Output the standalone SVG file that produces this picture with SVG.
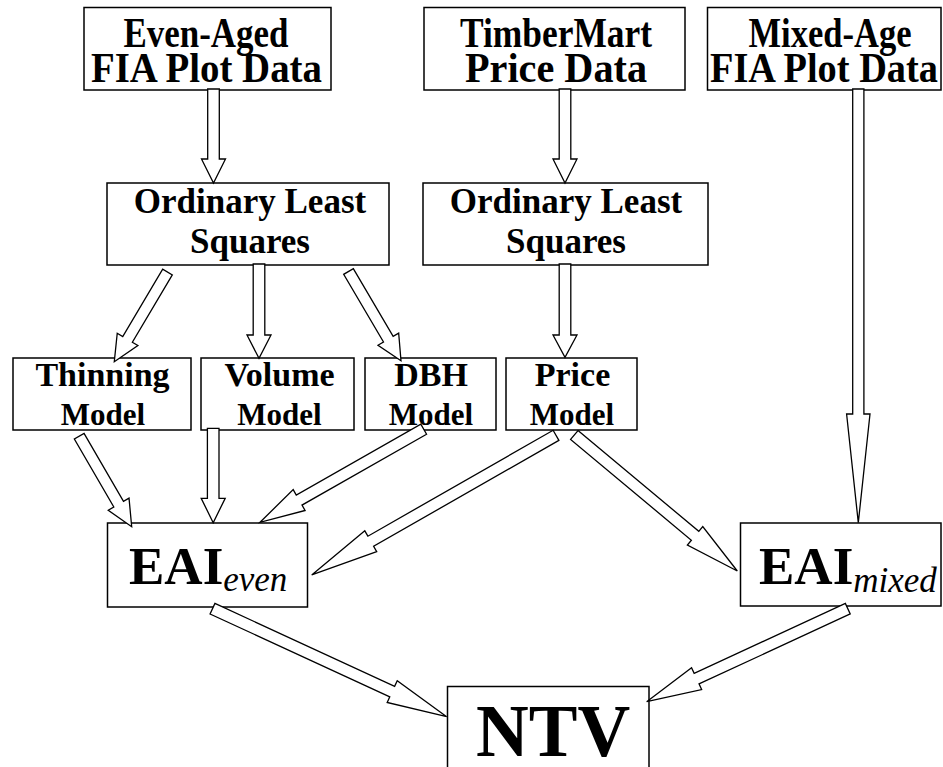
<svg xmlns="http://www.w3.org/2000/svg" width="943" height="767" viewBox="0 0 943 767">
<style>
.box{fill:#fff;stroke:#000;stroke-width:1.5}
.t{font-family:"Liberation Serif","Times New Roman",serif;font-weight:bold;fill:#000}
.i{font-family:"Liberation Serif","Times New Roman",serif;font-style:italic;font-weight:normal}
.ar{fill:#fff;stroke:#000;stroke-width:1.3;stroke-linejoin:miter}
</style>
<rect width="943" height="767" fill="#fff"/>
<g id="even-aged-fia">
<rect class="box" x="84" y="7.5" width="247" height="82.5"/>
<text class="t" font-size="43" x="206" y="47" text-anchor="middle" textLength="165" lengthAdjust="spacingAndGlyphs">Even-Aged</text>
<text class="t" font-size="43" x="206.5" y="82" text-anchor="middle" textLength="231" lengthAdjust="spacingAndGlyphs">FIA Plot Data</text>
</g>
<g id="timbermart">
<rect class="box" x="424" y="7.5" width="261" height="82.5"/>
<text class="t" font-size="43" x="556" y="47" text-anchor="middle" textLength="192" lengthAdjust="spacingAndGlyphs">TimberMart</text>
<text class="t" font-size="43" x="556" y="82" text-anchor="middle" textLength="182" lengthAdjust="spacingAndGlyphs">Price Data</text>
</g>
<g id="mixed-age-fia">
<rect class="box" x="707.5" y="7.5" width="233.5" height="82.5"/>
<text class="t" font-size="43" x="830" y="47" text-anchor="middle" textLength="163" lengthAdjust="spacingAndGlyphs">Mixed-Age</text>
<text class="t" font-size="43" x="824" y="82" text-anchor="middle" textLength="228" lengthAdjust="spacingAndGlyphs">FIA Plot Data</text>
</g>
<g id="ols-1">
<rect class="box" x="107" y="183" width="282" height="82"/>
<text class="t" font-size="35" x="250" y="213" text-anchor="middle">Ordinary Least</text>
<text class="t" font-size="35" x="250" y="253" text-anchor="middle">Squares</text>
</g>
<g id="ols-2">
<rect class="box" x="423" y="183" width="285" height="82"/>
<text class="t" font-size="35" x="566" y="213" text-anchor="middle">Ordinary Least</text>
<text class="t" font-size="35" x="566" y="253" text-anchor="middle">Squares</text>
</g>
<g id="thinning-model">
<rect class="box" x="13" y="358" width="178" height="72"/>
<text class="t" font-size="34" x="102.5" y="386" text-anchor="middle">Thinning</text>
<text class="t" font-size="31" x="103" y="425" text-anchor="middle">Model</text>
</g>
<g id="volume-model">
<rect class="box" x="201" y="358" width="153" height="72"/>
<text class="t" font-size="34" x="279.5" y="386" text-anchor="middle">Volume</text>
<text class="t" font-size="31" x="279.5" y="425" text-anchor="middle">Model</text>
</g>
<g id="dbh-model">
<rect class="box" x="365" y="358" width="131" height="72"/>
<text class="t" font-size="34" x="431" y="386" text-anchor="middle">DBH</text>
<text class="t" font-size="31" x="431" y="425" text-anchor="middle">Model</text>
</g>
<g id="price-model">
<rect class="box" x="506" y="358" width="131" height="72"/>
<text class="t" font-size="34" x="572.5" y="386" text-anchor="middle">Price</text>
<text class="t" font-size="31" x="572" y="425" text-anchor="middle">Model</text>
</g>
<g id="eai-even">
<rect class="box" x="107.5" y="523" width="200" height="84"/>
<text class="t" font-size="53" x="129" y="583.5">EAI<tspan class="i" font-size="35" dy="7.5">even</tspan></text>
</g>
<g id="eai-mixed">
<rect class="box" x="740.5" y="523" width="200.5" height="83"/>
<text class="t" font-size="53" x="759" y="583.5">EAI<tspan class="i" font-size="35" dy="8">mixed</tspan></text>
</g>
<g id="ntv">
<rect class="box" x="447.5" y="686.5" width="201.5" height="90"/>
<text class="t" font-size="73" x="476" y="756">NTV</text>
</g>
<g id="connectors">
<polygon class="ar" transform="translate(213.5,89) rotate(90)" points="0,-5.8 70,-5.8 70,-12 94,0 70,12 70,5.8 0,5.8"/>
<polygon class="ar" transform="translate(565,89) rotate(90)" points="0,-5.8 70,-5.8 70,-12 94,0 70,12 70,5.8 0,5.8"/>
<polygon class="ar" transform="translate(858.3,89) rotate(90)" points="0,-5.6 325,-5.6 325,-11.7 433.7,0 325,11.7 325,5.6 0,5.6"/>
<polygon class="ar" transform="translate(167.5,272) rotate(120.67)" points="0,-5.6 78.3,-5.6 78.3,-12 104.3,0 78.3,12 78.3,5.6 0,5.6"/>
<polygon class="ar" transform="translate(259,264) rotate(90)" points="0,-5.8 71,-5.8 71,-12 94.3,0 71,12 71,5.8 0,5.8"/>
<polygon class="ar" transform="translate(348.5,271.5) rotate(59.52)" points="0,-5.6 78.5,-5.6 78.5,-12 103.5,0 78.5,12 78.5,5.6 0,5.6"/>
<polygon class="ar" transform="translate(565,264) rotate(90)" points="0,-5.8 71,-5.8 71,-12 93.3,0 71,12 71,5.8 0,5.8"/>
<polygon class="ar" transform="translate(79.2,436.2) rotate(59.88)" points="0,-5.6 78.6,-5.6 78.6,-12 104.6,0 78.6,12 78.6,5.6 0,5.6"/>
<polygon class="ar" transform="translate(213.2,428.3) rotate(90)" points="0,-5.8 70,-5.8 70,-12 94.4,0 70,12 70,5.8 0,5.8"/>
<polygon class="ar" transform="translate(423.7,429.2) rotate(150.37)" points="0,-5.8 143.3,-5.8 143.3,-12 188.3,0 143.3,12 143.3,5.8 0,5.8"/>
<polygon class="ar" transform="translate(556,435.3) rotate(150.24)" points="0,-5.8 213.4,-5.8 213.4,-12 281.4,0 213.4,12 213.4,5.8 0,5.8"/>
<polygon class="ar" transform="translate(574.3,435) rotate(39.84)" points="0,-5.8 157.3,-5.8 157.3,-12 212.3,0 157.3,12 157.3,5.8 0,5.8"/>
<polygon class="ar" transform="translate(212.5,608.7) rotate(24.76)" points="0,-5.8 197.9,-5.8 197.9,-12 257.9,0 197.9,12 197.9,5.8 0,5.8"/>
<polygon class="ar" transform="translate(847.8,608.7) rotate(155.18)" points="0,-5.8 166.6,-5.8 166.6,-12 221.6,0 166.6,12 166.6,5.8 0,5.8"/>
</g>
</svg>
